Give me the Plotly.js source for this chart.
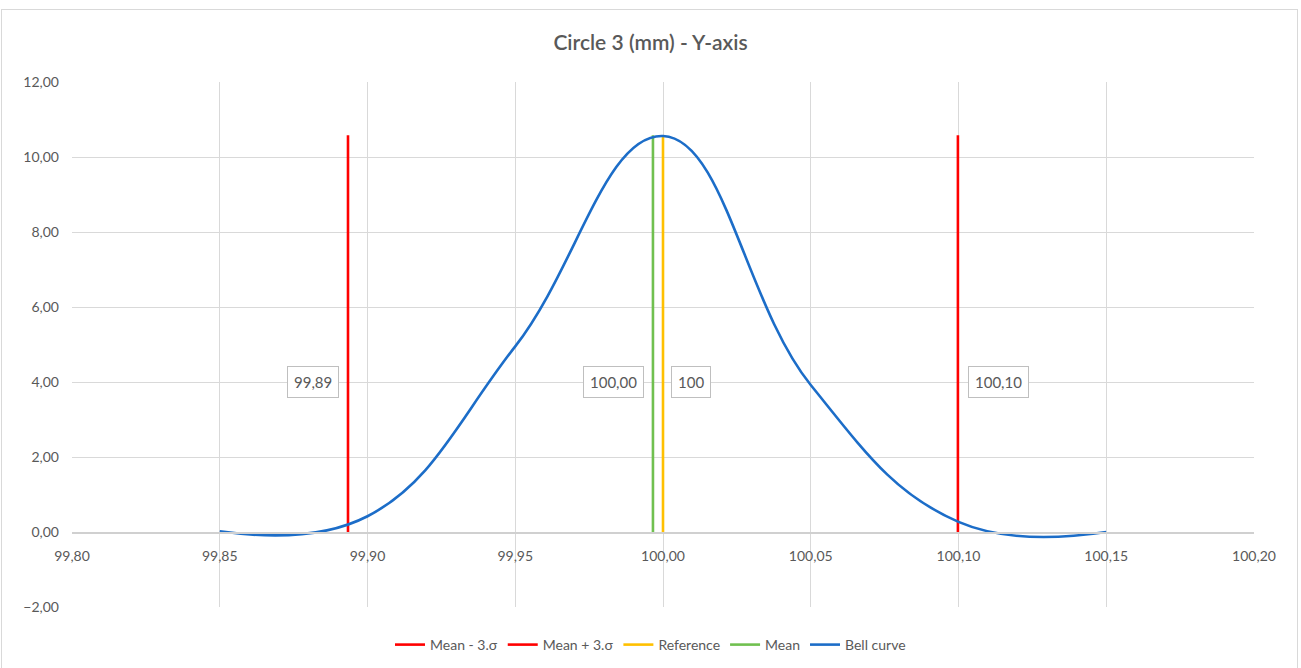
<!DOCTYPE html>
<html>
<head>
<meta charset="utf-8">
<script src="https://cdn.plot.ly/plotly-3.0.1.min.js"></script>
<style>
  html, body { margin: 0; padding: 0; background: #ffffff; }
  #wrap { position: relative; width: 1301px; height: 668px; overflow: hidden; }
  #frame { position: absolute; left: 1px; top: 9px; width: 1297px; height: 662px; border: 1px solid #D9D9D9; box-sizing: border-box; pointer-events: none; }
  #chart { position: absolute; left: 0; top: 0; width: 1301px; height: 668px; }
</style>
</head>
<body>
<div id="wrap">
  <div id="chart"></div>
  <div id="frame"></div>
</div>
<script>
// ---- data ----
const bellX = [99.85, 99.90, 99.95, 100.00, 100.05, 100.10, 100.15];
const bellY = [0.02, 0.42, 4.95, 10.56, 3.92, 0.27, 0.0];

const meanMinus3s = 99.8934;
const meanPlus3s = 100.0998;
const referenceVal = 100.00;
const meanVal = 99.9966;
const lineBottom = 0;
const lineTop = 10.58;
const labelY = 4;

const seriesNames = ["Mean - 3.σ", "Mean + 3.σ", "Reference", "Mean", "Bell curve"];
const labelTexts = ["99,89", "100,10", "100", "100,00"];

const FONT = "Lato, 'Open Sans', 'DejaVu Sans', sans-serif";
const GREY = "#595959";

function vline(xv, name, color) {
  return {
    type: "scatter", mode: "lines", name: name,
    x: [xv, xv], y: [lineBottom, lineTop],
    line: { color: color, width: 2.6 },
    hoverinfo: "skip"
  };
}

const traces = [
  vline(meanMinus3s, seriesNames[0], "#FF0000"),
  vline(meanPlus3s, seriesNames[1], "#FF0000"),
  vline(referenceVal, seriesNames[2], "#FFC000"),
  vline(meanVal, seriesNames[3], "#70C050"),
  {
    type: "scatter", mode: "lines", name: seriesNames[4],
    x: bellX, y: bellY,
    line: { color: "#1C6DC8", width: 2.6, shape: "spline", smoothing: 1.2 },
    hoverinfo: "skip"
  }
];

function label(xv, text, side, shift) {
  return {
    x: xv, y: labelY, xref: "x", yref: "y",
    text: text, showarrow: false,
    xanchor: side, yanchor: "middle", xshift: shift,
    font: { family: FONT, size: 15, color: GREY },
    bgcolor: "#ffffff", bordercolor: "#BFBFBF", borderwidth: 1, borderpad: 6
  };
}

const layout = {
  width: 1301, height: 668,
  paper_bgcolor: "rgba(0,0,0,0)", plot_bgcolor: "#ffffff",
  margin: { l: 72, r: 47, t: 82, b: 61, pad: 0 },
  separators: ",.",
  font: { family: FONT, color: GREY, size: 14 },
  title: {
    text: "Circle 3 (mm) - Y-axis",
    font: { family: FONT, size: 21, color: GREY, weight: 600 },
    x: 0.5, xanchor: "center", y: 1 - 43 / 668, yanchor: "middle", yref: "container"
  },
  showlegend: true,
  legend: {
    orientation: "h", x: 0.5, xanchor: "center", xref: "container",
    y: 1 - 645 / 668, yanchor: "middle", yref: "container",
    font: { family: FONT, size: 14, color: GREY },
    itemwidth: 30, tracegroupgap: 0, traceorder: "normal"
  },
  xaxis: {
    range: [99.80, 100.20], dtick: 0.05, tick0: 99.80,
    tickformat: ".2f",
    showgrid: true, gridcolor: "#D9D9D9", gridwidth: 1,
    zeroline: false, showline: true, linecolor: "#D0D0D0", linewidth: 1.5,
    anchor: "free", position: 75 / 525,
    ticks: "", ticklabelstandoff: 11,
    tickfont: { family: FONT, size: 14, color: GREY },
    fixedrange: true
  },
  yaxis: {
    range: [-2, 12], dtick: 2, tick0: -2,
    tickformat: ".2f",
    showgrid: true, gridcolor: "#D9D9D9", gridwidth: 1,
    zeroline: false, showline: false,
    ticks: "", ticklabelstandoff: 12,
    tickfont: { family: FONT, size: 14, color: GREY },
    fixedrange: true
  },
  annotations: [
    label(meanMinus3s, labelTexts[0], "right", -9),
    label(meanPlus3s, labelTexts[1], "left", 10),
    label(referenceVal, labelTexts[2], "left", 8),
    label(meanVal, labelTexts[3], "right", -9)
  ]
};

Plotly.newPlot("chart", traces, layout, { displayModeBar: false, staticPlot: true });
</script>
</body>
</html>
